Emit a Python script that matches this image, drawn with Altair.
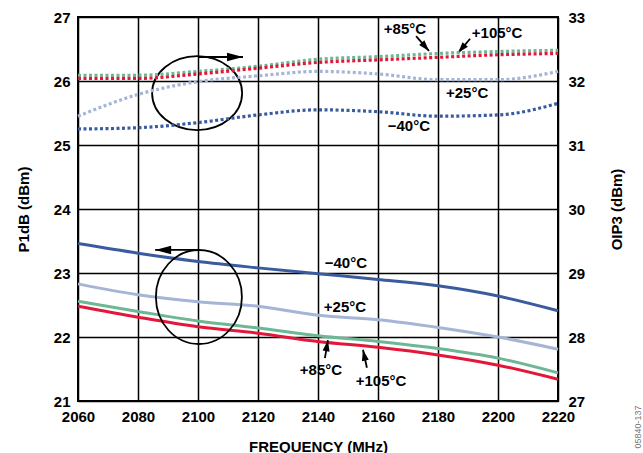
import math
import altair as alt
import pandas as pd

# ---------------- data ----------------
freq = [2060, 2080, 2100, 2120, 2140, 2160, 2180, 2200, 2220]
temps = ["−40°C", "+25°C", "+85°C", "+105°C"]
colors = ["#3A5C9E", "#A4B5D6", "#6DB795", "#E3173A"]

p1db_m40 = [23.46, 23.31, 23.18, 23.08, 22.99, 22.90, 22.80, 22.64, 22.41]
p1db_25 = [22.83, 22.66, 22.55, 22.48, 22.34, 22.27, 22.15, 22.00, 21.81]
p1db_85 = [22.56, 22.40, 22.25, 22.14, 22.02, 21.93, 21.82, 21.67, 21.44]
p1db_105 = [22.48, 22.31, 22.16, 22.06, 21.93, 21.84, 21.72, 21.56, 21.34]

oip3_m40 = [31.25, 31.27, 31.35, 31.47, 31.55, 31.52, 31.45, 31.47, 31.65]
oip3_25 = [31.45, 31.79, 31.99, 32.08, 32.15, 32.11, 32.02, 32.02, 32.15]
oip3_85 = [32.09, 32.09, 32.15, 32.23, 32.34, 32.38, 32.43, 32.46, 32.48]
oip3_105 = [32.04, 32.04, 32.11, 32.20, 32.29, 32.33, 32.37, 32.41, 32.43]

left_ticks = [21, 22, 23, 24, 25, 26, 27]
right_ticks = [27, 28, 29, 30, 31, 32, 33]

# annotation labels (frequency, P1dB-scale value)
label_text = ["+85°C", "+105°C", "+25°C", "−40°C", "−40°C", "+25°C", "+85°C", "+105°C"]
label_x = [2169.0, 2199.7, 2189.7, 2170.3, 2149.3, 2149.0, 2141.0, 2161.0]
label_y = [26.81, 26.75, 25.81, 25.30, 23.16, 22.47, 21.48, 21.31]

# ellipses marking which axis each family belongs to
ell_x = [2099.7, 2100.3]
ell_y = [25.81, 22.625]

# main arrows (horizontal)
main_x0 = [2100.3, 2100.7]
main_x1 = [2115.0, 2085.7]
main_y = [26.375, 23.36]

# pointer arrows from labels to curves
ptr_x0 = [2172.7, 2190.7, 2142.3, 2156.3]
ptr_y0 = [26.70, 26.66, 21.67, 21.52]
ptr_x1 = [2177.0, 2186.7, 2143.3, 2155.0]
ptr_y1 = [26.47, 26.44, 21.95, 21.80]

# ---------------- layout ----------------
W, H = 480, 384
PAD = {"left": 78, "top": 17, "right": 85, "bottom": 52}
FONT = "Liberation Sans"

p1_rows, oi_rows = [], []
for t, ps, os_ in zip(temps, [p1db_m40, p1db_25, p1db_85, p1db_105],
                      [oip3_m40, oip3_25, oip3_85, oip3_105]):
    for f, a, b in zip(freq, ps, os_):
        p1_rows.append({"freq": f, "y": a, "temp": t})
        oi_rows.append({"freq": f, "y2v": b, "temp": t})
p1_df = pd.DataFrame(p1_rows)
oi_df = pd.DataFrame(oi_rows)

x_scale = alt.Scale(domain=[2060, 2220], nice=False, zero=False)
x_axis = alt.Axis(values=freq, format="d", title="FREQUENCY (MHz)", grid=True, gridColor="black",
                  gridWidth=1.5, gridOpacity=1, ticks=False, domain=False,
                  labelPadding=8, labelFontSize=15, labelFont=FONT, labelFontWeight="bold",
                  labelColor="black", labelFlush=False, labelOverlap=False,
                  titleFont=FONT, titleFontSize=15, titleFontWeight="bold", titleColor="black",
                  titleY=38, titleBaseline="top")
left_scale = alt.Scale(domain=[21, 27], nice=False, zero=False)
left_axis = alt.Axis(values=left_ticks, title="P1dB (dBm)", grid=True, gridColor="black",
                     gridWidth=1.5, gridOpacity=1, ticks=False, domain=False,
                     labelPadding=8, labelFontSize=15, labelFont=FONT, labelFontWeight="bold",
                     labelColor="black", labelFlush=False, labelOverlap=False,
                     titleFont=FONT, titleFontSize=15, titleFontWeight="bold", titleColor="black",
                     titleAngle=270, titleX=-50, titleY=192, titleBaseline="alphabetic",
                     titleAlign="center")
right_scale = alt.Scale(domain=[27, 33], nice=False, zero=False)
right_axis = alt.Axis(values=right_ticks, title="OIP3 (dBm)", orient="right", grid=False,
                      ticks=False, domain=False,
                      labelPadding=10, labelFontSize=15, labelFont=FONT, labelFontWeight="bold",
                      labelColor="black", labelFlush=False, labelOverlap=False,
                      titleFont=FONT, titleFontSize=15, titleFontWeight="bold", titleColor="black",
                      titleAngle=270, titleX=63, titleY=192, titleBaseline="alphabetic",
                      titleAlign="center")

color = alt.Color("temp:N", scale=alt.Scale(domain=temps, range=colors), legend=None)


def X(field):
    return alt.X(field, type="quantitative", scale=x_scale, axis=x_axis)


def Y(field):
    return alt.Y(field, type="quantitative", scale=left_scale, axis=left_axis)


p1_lines = alt.Chart(p1_df).mark_line(strokeWidth=3, interpolate="monotone").encode(
    x=X("freq"), y=Y("y"), color=color, detail="temp:N")

lab_df = pd.DataFrame({"x": label_x, "y": label_y, "t": label_text})
labels = alt.Chart(lab_df).mark_text(font=FONT, fontSize=15, fontWeight="bold",
                                     color="black", baseline="middle", align="center").encode(
    x=X("x"), y=Y("y"), text="t:N")

ell_top = alt.Chart(pd.DataFrame({"x": ell_x[:1], "y": ell_y[:1]})).mark_point(
    shape="M-1,0 A1,0.822 0 1,0 1,0 A1,0.822 0 1,0 -1,0 Z", size=8100, filled=False,
    stroke="black", strokeWidth=1.8, opacity=1).encode(x=X("x"), y=Y("y"))
ell_bot = alt.Chart(pd.DataFrame({"x": ell_x[1:], "y": ell_y[1:]})).mark_point(
    shape="M-0.915,0 A0.915,1 0 1,0 0.915,0 A0.915,1 0 1,0 -0.915,0 Z", size=8836,
    filled=False, stroke="black", strokeWidth=1.8, opacity=1).encode(x=X("x"), y=Y("y"))

PXX = W / 160.0
PXY = H / 6.0


def ang(x0, y0, x1, y1):
    dx = (x1 - x0) * PXX
    dy = -(y1 - y0) * PXY
    return (math.degrees(math.atan2(dx, -dy)) + 360) % 360


main_df = pd.DataFrame({"x0": main_x0, "x1": main_x1, "y0": main_y, "y1": main_y})
main_df["a"] = [ang(a, b, c, d) for a, b, c, d in zip(main_df.x0, main_df.y0, main_df.x1, main_df.y1)]
ptr_df = pd.DataFrame({"x0": ptr_x0, "x1": ptr_x1, "y0": ptr_y0, "y1": ptr_y1})
ptr_df["a"] = [ang(a, b, c, d) for a, b, c, d in zip(ptr_df.x0, ptr_df.y0, ptr_df.x1, ptr_df.y1)]

main_shaft = alt.Chart(main_df).mark_rule(color="black", strokeWidth=1.8).encode(
    x=X("x0"), x2="x1", y=Y("y0"), y2="y1")
main_head = alt.Chart(main_df).mark_point(
    shape="M0,0 L0.27,1 L-0.27,1 Z", size=1024, filled=True, color="black", opacity=1).encode(
    x=X("x1"), y=Y("y1"), angle=alt.Angle("a:Q", scale=None))
ptr_shaft = alt.Chart(ptr_df).mark_rule(color="black", strokeWidth=1.8).encode(
    x=X("x0"), x2="x1", y=Y("y0"), y2="y1")
ptr_head = alt.Chart(ptr_df).mark_point(
    shape="M0,0 L0.32,1 L-0.32,1 Z", size=484, filled=True, color="black", opacity=1).encode(
    x=X("x1"), y=Y("y1"), angle=alt.Angle("a:Q", scale=None))

watermark = alt.Chart(pd.DataFrame({"t": ["05840-137"]})).mark_text(
    font=FONT, fontSize=9, color="#777777", angle=270, align="center",
    baseline="alphabetic").encode(x=alt.value(563), y=alt.value(410), text="t:N")

left = alt.layer(p1_lines, ell_top, ell_bot, main_shaft, main_head, ptr_shaft, ptr_head,
                 labels, watermark)

oi_lines = alt.Chart(oi_df).mark_line(strokeWidth=3.2, strokeDash=[3, 2.5],
                                      interpolate="monotone").encode(
    x=X("freq"), y=alt.Y("y2v:Q", scale=right_scale, axis=right_axis),
    color=color, detail="temp:N")

chart = alt.layer(left, oi_lines).resolve_scale(y="independent").properties(
    width=W, height=H, padding=PAD,
    autosize=alt.AutoSizeParams(type="none"),
    background="white",
).configure_view(stroke="black", strokeWidth=2)

chart.save("out.html", embed_options={"renderer": "svg", "actions": False})
